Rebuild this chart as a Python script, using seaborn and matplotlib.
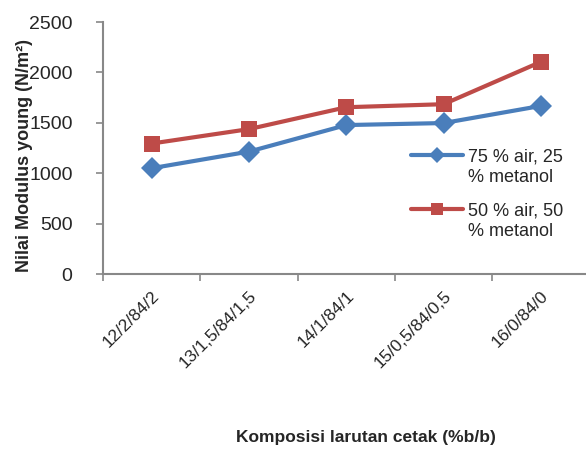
import numpy as np
import pandas as pd
import matplotlib
matplotlib.use("Agg")
import matplotlib.pyplot as plt
from matplotlib.lines import Line2D
import seaborn as sns

# data
komposisi = ["12/2/84/2", "13/1,5/84/1,5", "14/1/84/1", "15/0,5/84/0,5", "16/0/84/0"]
air75 = [1050, 1215, 1478, 1498, 1668]
air50 = [1295, 1438, 1655, 1685, 2105]
seri = ["75 % air, 25 % metanol", "50 % air, 50 % metanol"]
warna = ["#4a7ebb", "#be4b48"]
penanda = ["D", "s"]

df = pd.DataFrame({
    "komposisi": komposisi * 2,
    "x": list(range(len(komposisi))) * 2,
    "nilai": air75 + air50,
    "seri": [seri[0]] * 5 + [seri[1]] * 5,
})

sns.set_style("ticks")
plt.rcParams["font.family"] = ["Liberation Sans", "DejaVu Sans"]

fig = plt.figure(figsize=(5.86, 4.5), dpi=100)
ax = fig.add_axes([0.176, 0.391, 0.83, 0.56])

sns.lineplot(data=df, x="x", y="nilai", hue="seri", style="seri",
             palette=warna, markers=penanda, dashes=False,
             linewidth=3, markersize=11, markeredgewidth=0, ax=ax, legend=False)

ax.set_xlim(-0.5, 4.5)
ax.set_ylim(0, 2500)
ax.set_yticks(np.arange(0, 2501, 500))
ax.set_xticks(range(len(komposisi)))
ax.set_xticklabels(komposisi, rotation=45, ha="right", rotation_mode="anchor", fontsize=12.5)
ax.set_xticks(np.arange(-0.5, 5, 1), minor=True)
ax.tick_params(axis="x", which="major", length=0)
ax.tick_params(axis="x", which="major", pad=10)
ax.tick_params(axis="x", which="minor", length=5, width=1.2, color="#888888",
               direction="out", bottom=True)
ax.tick_params(axis="y", length=5, width=1.2, color="#888888", direction="out",
               labelsize=14, left=True)
ax.tick_params(axis="y", pad=17)

for s in ["top", "right"]:
    ax.spines[s].set_visible(False)
for s in ["left", "bottom"]:
    ax.spines[s].set_color("#888888")
    ax.spines[s].set_linewidth(1.5)

ax.set_xlabel("Komposisi larutan cetak (%b/b)", fontsize=12.5, fontweight="bold")
ax.xaxis.set_label_coords(0.54, -0.62)
ax.set_ylabel("Nilai Modulus young (N/m²)", fontsize=13, fontweight="bold")
ax.yaxis.set_label_coords(-0.144, 0.472)

# one legend per series, the handle sitting on the first text line
kosong = Line2D([], [], linestyle="none")
posisi_y = [0.50, 0.285]
for i in range(len(seri)):
    h = Line2D([], [], color=warna[i], lw=3, marker=penanda[i],
               markersize=8, markeredgewidth=0)
    baris = seri[i].split(" % metanol")[0]
    lg = ax.legend(handles=[h, kosong], labels=[baris, "% metanol"],
                   loc="upper left", bbox_to_anchor=(0.632, posisi_y[i]),
                   frameon=False, fontsize=13, handlelength=2.9,
                   handletextpad=0.3, labelspacing=0.22, borderpad=0,
                   borderaxespad=0)
    ax.add_artist(lg)
ax.legend_ = None

fig.savefig("out.png", dpi=100)
